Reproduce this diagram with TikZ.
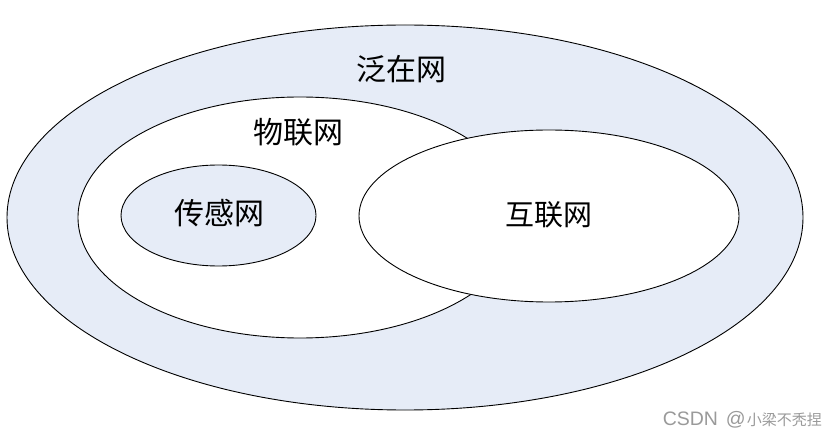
\documentclass[tikz,border=0pt]{standalone}
\usepackage{fontspec}
\newfontfamily\cjk{Noto Sans CJK SC}
\setsansfont{Liberation Sans}
\usetikzlibrary{shapes.geometric}
\definecolor{netblue}{HTML}{E6ECF7}
\definecolor{wmgray}{HTML}{9A9A9A}
\tikzset{
  netell/.style={ellipse, draw=black, line width=0.9pt, inner sep=0pt},
  netlabel/.style={font=\cjk\fontsize{30}{32}\selectfont, text=black, inner sep=0pt},
}
\begin{document}
\begin{tikzpicture}[x=1pt,y=-1pt]
\useasboundingbox[fill=white] (0,0) rectangle (835,438);
\node[netell, fill=netblue, minimum width=796pt, minimum height=385pt] (fanzai) at (405,217.5) {};
\node[netell, fill=white, minimum width=444pt, minimum height=241pt] (wulian) at (300,217.5) {};
\node[netell, fill=netblue, minimum width=195pt, minimum height=101pt] (chuangan) at (218.5,215.5) {};
\node[netell, fill=white, minimum width=380pt, minimum height=172pt] (hulian) at (549,216) {};
\node[netlabel] (tfanzai) at (401,69) {泛在网};
\node[netlabel] (twulian) at (298,132) {物联网};
\node[netlabel] (tchuangan) at (219,213) {传感网};
\node[netlabel, font=\cjk\fontsize{29}{31}\selectfont] (thulian) at (549,215) {互联网};
\node[text=wmgray, inner sep=0pt, anchor=east] (wm) at (822,419.5) {\sffamily\fontsize{19.5}{21}\selectfont CSDN\hspace{8pt}@\hspace{1pt}\cjk\fontsize{15}{17}\selectfont 小梁不秃捏};
\end{tikzpicture}
\end{document}
